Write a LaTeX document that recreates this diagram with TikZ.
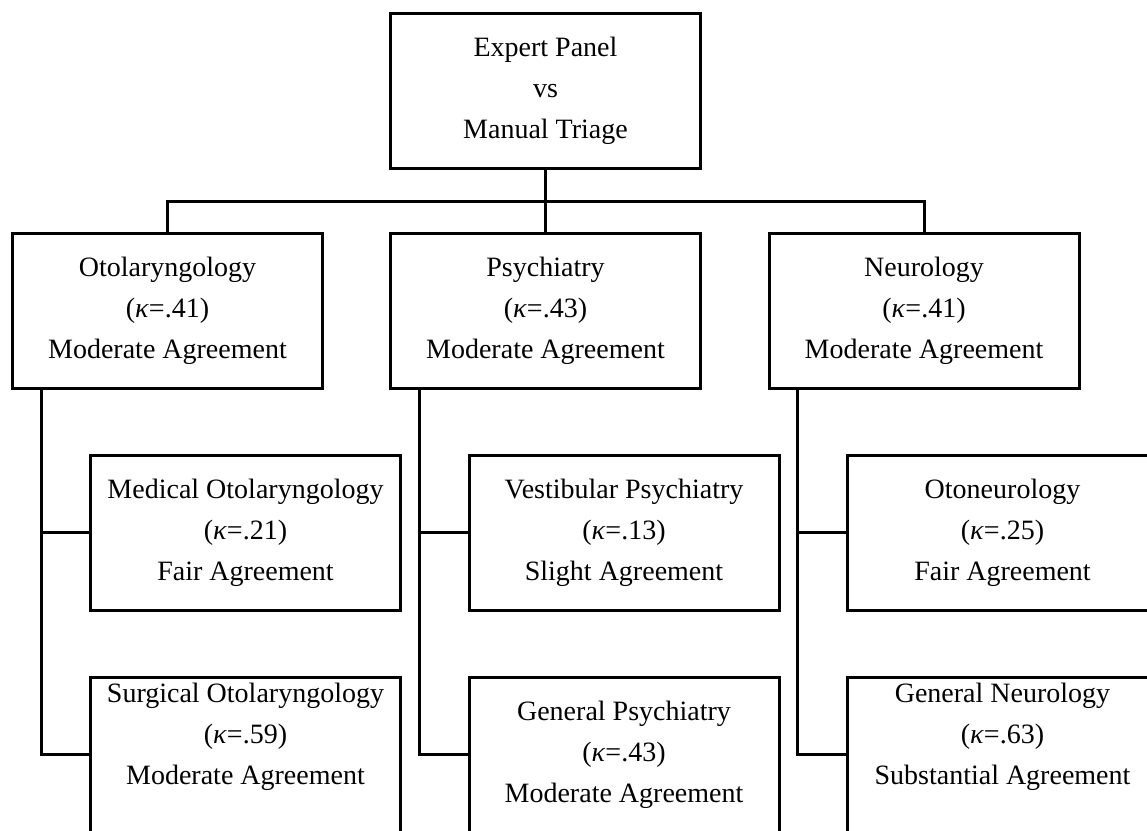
\documentclass[tikz,border=0pt]{standalone}
\usepackage{fontspec}
\setmainfont{Liberation Serif}
\usetikzlibrary{positioning}

\begin{document}
\begin{tikzpicture}[x=1pt,y=-1pt,
  box/.style={draw,line width=3pt,minimum width=310pt,minimum height=155pt,inner sep=0pt,align=center,font=\fontsize{28}{41}\selectfont},
  link/.style={line width=3pt}]

\useasboundingbox (0,0) rectangle (1147,830);
\clip (0,0) rectangle (1147,830);

\node[box] (panel) at (545.5,90.5){Expert Panel\\vs\\Manual Triage};
\node[box] (oto) at (167.5,311){Otolaryngology\\(\textit{κ}=.41)\\Moderate Agreement};
\node[box] (psy) at (545.5,311){Psychiatry\\(\textit{κ}=.43)\\Moderate Agreement};
\node[box] (neu) at (924,311){Neurology\\(\textit{κ}=.41)\\Moderate Agreement};
\node[box] (med) at (245.5,532.5){Medical Otolaryngology\\(\textit{κ}=.21)\\Fair Agreement};
\node[box] (sur) at (245.5,754.5){Surgical Otolaryngology\\(\textit{κ}=.59)\\Moderate Agreement\\\mbox{}};
\node[box] (ves) at (624,532.5){Vestibular Psychiatry\\(\textit{κ}=.13)\\Slight Agreement};
\node[box] (genp) at (624,754.5){General Psychiatry\\(\textit{κ}=.43)\\Moderate Agreement};
\node[box] (oton) at (1002.5,532.5){Otoneurology\\(\textit{κ}=.25)\\Fair Agreement};
\node[box] (genn) at (1002.5,754.5){General Neurology\\(\textit{κ}=.63)\\Substantial Agreement\\\mbox{}};

\coordinate (bus) at (545.5,201);
\coordinate (otostem) at ([xshift=30pt]oto.south west);
\coordinate (psystem) at ([xshift=30pt]psy.south west);
\coordinate (neustem) at ([xshift=30pt]neu.south west);

\draw[link] (panel.south) -- (bus);
\draw[link] (bus) -| (oto.north);
\draw[link] (bus) -| (neu.north);
\draw[link] (bus) -- (psy.north);
\draw[link] (otostem) |- (med.west);
\draw[link] (otostem) |- (sur.west);
\draw[link] (psystem) |- (ves.west);
\draw[link] (psystem) |- (genp.west);
\draw[link] (neustem) |- (oton.west);
\draw[link] (neustem) |- (genn.west);

\end{tikzpicture}
\end{document}
